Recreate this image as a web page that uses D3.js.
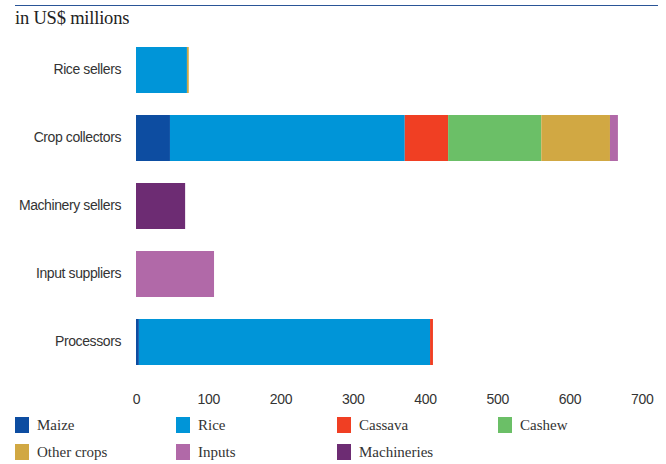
<!DOCTYPE html>
<html><head><meta charset="utf-8">
<script src="https://cdn.jsdelivr.net/npm/d3@7"></script>
<style>body{margin:0;background:#fff}</style>
</head><body>
<svg id="chart" width="666" height="464"></svg>
<script>
const categories = ["Rice sellers", "Crop collectors", "Machinery sellers", "Input suppliers", "Processors"];
const seriesNames = ["Maize", "Rice", "Cassava", "Cashew", "Other crops", "Inputs", "Machineries"];
const maize       = [0,   47,  0,  0,   4];
const rice        = [70.5, 325, 0,  0,   403];
const cassava     = [0,   60,  0,  0,   4];
const cashew      = [0,   129, 0,  0,   0];
const otherCrops  = [2.5, 95,  0,  0,   0];
const inputs      = [0,   11,  0,  108, 0];
const machineries = [0,   0,   68, 0,   0];
const tickValues  = [0, 100, 200, 300, 400, 500, 600, 700];
const colors = ["#0d4da1", "#0095d8", "#f03f23", "#6bbf67", "#d1a843", "#b169a8", "#6d2c73"];

const seriesValues = [maize, rice, cassava, cashew, otherCrops, inputs, machineries];
const rows = categories.map((c, i) => {
  const r = {cat: c};
  seriesNames.forEach((s, j) => r[s] = seriesValues[j][i]);
  return r;
});
const stack = d3.stack().keys(seriesNames)(rows);

const svg = d3.select("#chart");
const x = d3.scaleLinear().domain([0, 700]).range([136, 641.75]);
const y = d3.scaleBand().domain(categories).range([36, 376]).paddingInner(0.3235).paddingOuter(0.1618);
const color = d3.scaleOrdinal().domain(seriesNames).range(colors);

// top rule
svg.append("line").attr("x1", 15).attr("x2", 658).attr("y1", 5.5).attr("y2", 5.5)
  .attr("stroke", "#2a5597").attr("stroke-width", 1.2);
svg.append("text").attr("x", 15).attr("y", 24)
  .attr("font-family", "Liberation Serif, serif").attr("font-size", 18.5).attr("fill", "#222")
  .attr("letter-spacing", -0.2)
  .text("in US$ millions");

svg.append("g").selectAll("g").data(stack).join("g")
  .attr("fill", d => color(d.key))
  .selectAll("rect").data(d => d).join("rect")
  .attr("x", d => x(d[0]))
  .attr("width", d => x(d[1]) - x(d[0]))
  .attr("y", d => y(d.data.cat))
  .attr("height", y.bandwidth());

// y axis labels
const ya = svg.append("g").attr("transform", "translate(136,0)")
  .call(d3.axisLeft(y).tickSize(0).tickPadding(15));
ya.select(".domain").remove();
ya.selectAll("text").attr("font-family", "Liberation Sans, Arial, sans-serif").attr("font-size", 14)
  .attr("letter-spacing", -0.4).attr("fill", "#333");

// x axis
const xa = svg.append("g").attr("transform", "translate(0,386)")
  .call(d3.axisBottom(x).tickValues(tickValues).tickSize(0).tickPadding(8).tickFormat(d3.format("d")));
xa.select(".domain").remove();
xa.selectAll("text").attr("font-family", "Liberation Sans, Arial, sans-serif").attr("font-size", 14)
  .attr("letter-spacing", -0.3).attr("fill", "#333");

// legend
const leg = svg.append("g");
seriesNames.forEach((s, i) => {
  const col = i % 4, row = Math.floor(i / 4);
  const gx = 15 + col * 161, gy = 417 + row * 27;
  leg.append("rect").attr("x", gx).attr("y", gy).attr("width", 14).attr("height", 16).attr("fill", color(s));
  leg.append("text").attr("x", gx + 22).attr("y", gy + 13)
    .attr("font-family", "Liberation Serif, serif").attr("font-size", 15).attr("fill", "#333")
    .text(s);
});
</script>
</body></html>
